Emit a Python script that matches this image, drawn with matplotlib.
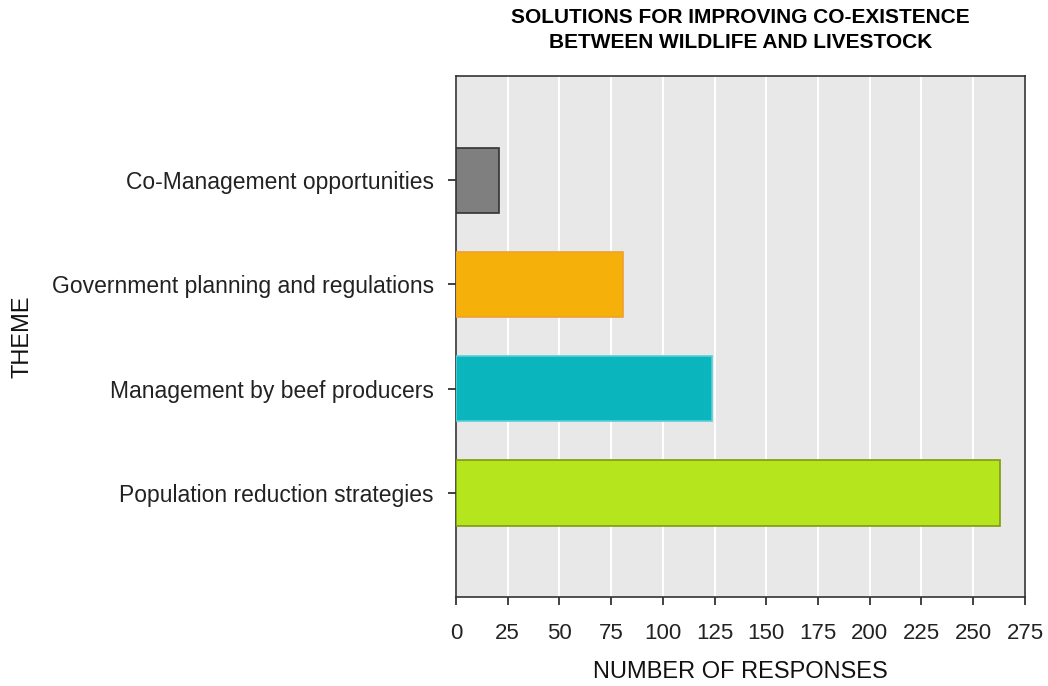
import numpy as np
import matplotlib.pyplot as plt

# data
themes = ["Population reduction strategies",
          "Management by beef producers",
          "Government planning and regulations",
          "Co-Management opportunities"]
responses = [263, 124, 81, 21]
fill_colors = ["#b5e61d", "#0ab5bd", "#f5b10a", "#7f7f7f"]
edge_colors = ["#7f9a10", "#55d0d5", "#f0a030", "#333333"]
xticks = np.arange(0, 276, 25)

plt.rcParams['font.family'] = ['Liberation Sans', 'DejaVu Sans']

fig = plt.figure(figsize=(10.48, 6.86), dpi=100)
ax = fig.add_axes([0.435, 0.1297, 0.543, 0.7593])

ypos = np.arange(len(themes))
ax.barh(ypos, responses, height=0.63, color=fill_colors,
        edgecolor=edge_colors, linewidth=1.2, zorder=3)

ax.set_facecolor("#e8e8e8")
ax.set_xlim(0, 275)
ax.set_ylim(-1, 4)
ax.set_xticks(xticks)
ax.set_yticks(ypos)
ax.set_yticklabels(themes)
ax.grid(axis='x', color='white', linewidth=1.5, zorder=0)
ax.tick_params(labelsize=16, colors='#222222', length=6, width=1.2)
ax.tick_params(axis='y', labelsize=16.5, pad=10)
ax.tick_params(axis='x', pad=13)
for s in ax.spines.values():
    s.set_color('#333333')
    s.set_linewidth(1.2)

ax.set_xlabel("NUMBER OF RESPONSES", fontsize=17, labelpad=12, color='#111111')
ax.set_ylabel("THEME", fontsize=17, color='#111111')
ax.yaxis.set_label_coords(-0.743, 0.5)
ax.set_title("SOLUTIONS FOR IMPROVING CO-EXISTENCE\nBETWEEN WILDLIFE AND LIVESTOCK",
             fontsize=15, fontweight='bold', pad=20, linespacing=1.4)

fig.savefig("out.png", dpi=100)
